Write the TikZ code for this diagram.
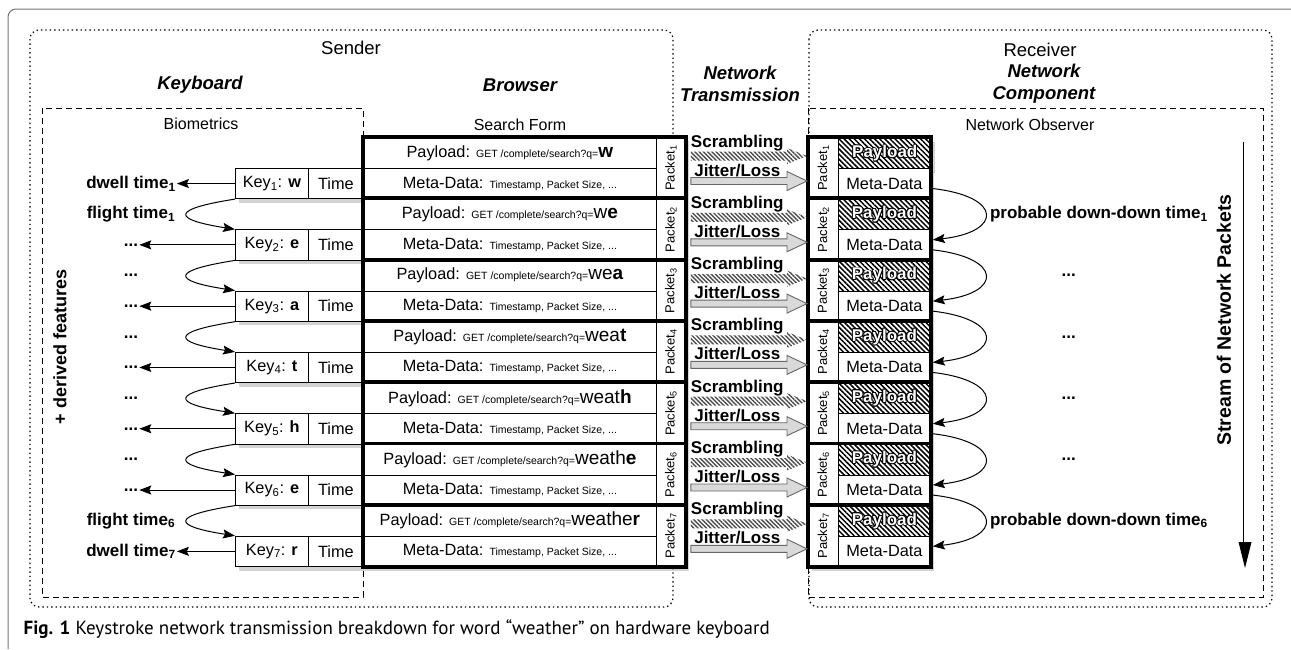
\documentclass[tikz,border=0pt]{standalone}
\usepackage{fontspec}
\setmainfont{Liberation Sans}
\newfontfamily\captionfont{PT Sans}
\usepackage{graphicx}
\usetikzlibrary{calc}
\usetikzlibrary{positioning}
\usetikzlibrary{arrows.meta}
\usetikzlibrary{patterns.meta}
\usetikzlibrary{shadows}
\newcommand{\smalltext}{\fontsize{10.5}{12}\selectfont}
\newcommand{\bigtext}{\fontsize{19}{20}\selectfont}
\newcommand{\pkttext}{\fontsize{13}{15}\selectfont}
\newcommand{\outlined}[1]{{\setbox0\hbox{#1}%
  \rlap{\color{black}\kern-.9pt\copy0}\rlap{\color{black}\kern.9pt\copy0}%
  \rlap{\color{black}\raise.9pt\copy0}\rlap{\color{black}\lower.9pt\copy0}%
  \rlap{\color{black}\kern-.65pt\raise.65pt\copy0}\rlap{\color{black}\kern.65pt\raise.65pt\copy0}%
  \rlap{\color{black}\kern-.65pt\lower.65pt\copy0}\rlap{\color{black}\kern.65pt\lower.65pt\copy0}%
  \color{white}\copy0}}
\newcommand{\netarrow}[5]{%
  \path[#1] ($(#2)+(0,-#4)$) -- ($(#3)+(-20,-#4)$) -- ($(#3)+(-20,-#5)$) -- (#3)
    -- ($(#3)+(-20,#5)$) -- ($(#3)+(-20,#4)$) -- ($(#2)+(0,#4)$) -- cycle;}

\begin{document}
\begin{tikzpicture}[x=1pt, y=-1pt, >={Stealth[length=12pt,width=9pt,inset=2pt]}]
    \fontsize{16.3}{19}\selectfont
    \useasboundingbox (0,0) rectangle (1291,649);

    % TikZ styles for drawing %%%%%%%%%%%%%%%%%%%%%%%%%%%%%%%%%%%%%%%%%%%%%%%%%%%%%%
    \tikzstyle{frame} = [draw,line width=1.2pt,dash pattern=on 1.4pt off 3pt,rounded corners=9pt]
    \tikzstyle{group} = [draw,line width=1pt,dash pattern=on 6pt off 4pt]
    \tikzstyle{cell} = [draw,rectangle,line width=0.8pt,inner sep=0pt,anchor=north west,fill=white,
                        drop shadow={shadow xshift=4pt,shadow yshift=-4pt,opacity=0.35}]
    \tikzstyle{border} = [draw,line width=3.8pt]
    \tikzstyle{title} = [font=\fontsize{18.5}{22}\selectfont]
    \tikzstyle{head} = [font=\fontsize{18.5}{22}\selectfont\bfseries\itshape,align=center]
    \tikzstyle{sub} = [font=\fontsize{16}{18}\selectfont]
    \tikzstyle{label} = [font=\fontsize{17}{20}\selectfont\bfseries,inner sep=1pt]
    \tikzstyle{connector} = [->,line width=1pt]
    \tikzstyle{scramble} = [pattern={Lines[angle=-45,distance=3pt,line width=1.4pt]},pattern color=black!70]
    \tikzstyle{jitter} = [fill=black!15,draw=black!60,line width=0.9pt]

    % Frames and headings %%%%%%%%%%%%%%%%%%%%%%%%%%%%%%%%%%%%%%%%%%%%%%%%%%%%%%%%%%%%
    \draw[black!55,line width=1pt,rounded corners=8pt] (1291,9) -- (8,9) -- (8,649);
    \draw[frame] (30,30) rectangle (673,607);
    \draw[frame] (809,30) rectangle (1272,607);
    \draw[group] (42,108) rectangle (363,597);
    \draw[group] (808,108) rectangle (1263,597);

    \node[title] (sender) at (351,48) {Sender};
    \node[title] (receiver) at (1040,50) {Receiver};
    \node[head] (keyboard) at (200,85) {Keyboard};
    \node[head] (browser) at (520,85) {Browser};
    \node[head] (transmission) at (740,84) {Network\\Transmission};
    \node[head] (component) at (1044,84) {Network\\Component};
    \node[sub] (biometrics) at (201,124) {Biometrics};
    \node[sub] (searchform) at (520,125) {Search Form};
    \node[sub] (observer) at (1030,125) {Network Observer};

    % Keys, search form packets and observed packets %%%%%%%%%%%%%%%%%%%%%%%%%%%%%%%%%%
    \foreach \i/\pre/\lst in {1//w,2/w/e,3/we/a,4/wea/t,5/weat/h,6/weath/e,7/weathe/r} {
      \pgfmathsetmacro{\ytop}{137+(\i-1)*61.3}

      \node[cell,minimum width=73,minimum height=30.3] (key\i) at (235,\ytop+31) {Key\textsubscript{\i}: \textbf{\lst}};
      \node[cell,minimum width=55,minimum height=30.3] (time\i) at (308,\ytop+31) {Time};

      \node[cell,minimum width=293,minimum height=31] (payload\i) at (363,\ytop)
        {Payload: {\smalltext GET /complete/search?q=}{\bigtext\pre\textbf{\lst}}};
      \node[cell,minimum width=293,minimum height=30.3] (meta\i) at (363,\ytop+31)
        {Meta-Data: {\smalltext Timestamp, Packet Size, ...}};
      \node[cell,minimum width=29,minimum height=61.3] (pkt\i) at (656,\ytop) {\rotatebox{90}{\pkttext Packet\textsubscript{\i}}};
      \draw[border] (payload\i.north west) rectangle (pkt\i.south east);

      \node[cell,minimum width=30,minimum height=61.3] (rpkt\i) at (808,\ytop) {\rotatebox{90}{\pkttext Packet\textsubscript{\i}}};
      \node[cell,minimum width=92,minimum height=31,pattern={Lines[angle=-45,distance=3.6pt,line width=1.5pt]},
            preaction={fill=white}] (rpay\i) at (838,\ytop) {\fontsize{17}{20}\selectfont\bfseries\outlined{Payload}};
      \node[cell,minimum width=92,minimum height=30.3] (rmeta\i) at (838,\ytop+31) {Meta-Data};
      \draw[border] (rpkt\i.north west) rectangle (rmeta\i.south east);

      % network transmission
      \coordinate (scrA\i) at ($(pkt\i.north east)+(5,19)$);
      \coordinate (scrB\i) at ($(rpkt\i.north west)+(-1,19)$);
      \coordinate (jitA\i) at ($(pkt\i.north east)+(5,44)$);
      \coordinate (jitB\i) at ($(rpkt\i.north west)+(-1,44)$);
      \netarrow{scramble}{scrA\i}{scrB\i}{4.5}{8}
      \netarrow{jitter}{jitA\i}{jitB\i}{3.5}{9.5}
      \node[label,anchor=base] (scrl\i) at ($(scrA\i)!0.4!(scrB\i)+(0,-9)$) {Scrambling};
      \node[label,anchor=base] (jitl\i) at ($(jitA\i)!0.4!(jitB\i)+(0,-5)$) {Jitter/Loss};
    }

    % Biometrics %%%%%%%%%%%%%%%%%%%%%%%%%%%%%%%%%%%%%%%%%%%%%%%%%%%%%%%%%%%%%%%%%%%%%%
    \foreach \i in {1,...,7} {
      \node[label] (dwell\i) at ($(key\i.west)+(-104,0)$)
        {\ifnum\i=1 dwell time\textsubscript{1}\else\ifnum\i=7 dwell time\textsubscript{7}\else ...\fi\fi};
      \draw[connector] (key\i.west) -- (dwell\i.east);
    }
    \foreach \i [evaluate=\i as \next using int(\i+1)] in {1,...,6} {
      \node[label] (flight\i) at ($(key\i.west)+(-104,30.6)$)
        {\ifnum\i=1 flight time\textsubscript{1}\else\ifnum\i=6 flight time\textsubscript{6}\else ...\fi\fi};
      \draw[connector] (key\i.south west) .. controls +(-64,10) and +(-64,-10) .. (key\next.north west);
      \draw[connector] ($(rmeta\i.east)+(2,5)$) .. controls +(70,8) and +(70,-8) .. ($(rmeta\next.east)+(2,-5)$);
    }
    \node[label,anchor=west] (ddt1) at ($(rmeta1.east)+(58,30.6)$) {probable down-down time\textsubscript{1}};
    \foreach \i in {2,...,5}
      \node[label] (ddt\i) at ($(rmeta\i.east)+(138,30.6)$) {...};
    \node[label,anchor=west] (ddt6) at ($(rmeta6.east)+(58,30.6)$) {probable down-down time\textsubscript{6}};

    \node[label,rotate=90,font=\fontsize{18}{21}\selectfont\bfseries] (derived) at (60,347) {+ derived features};

    % Stream of packets %%%%%%%%%%%%%%%%%%%%%%%%%%%%%%%%%%%%%%%%%%%%%%%%%%%%%%%%%%%%%%%
    \coordinate (streamtop) at (1245,142);
    \coordinate (streamend) at (1245,542);
    \draw[double,double distance=3pt,line width=0.9pt] (streamtop) -- (streamend);
    \fill ($(streamend)+(-6.5,0)$) -- ($(streamend)+(6.5,0)$) -- ($(streamend)+(0,26)$) -- cycle;
    \node[label,rotate=90,font=\fontsize{19.5}{22}\selectfont\bfseries] (streamlabel) at (1224,320) {Stream of Network Packets};

    \node[anchor=west,font=\captionfont\fontsize{19}{22}\selectfont] (caption) at (18,629)
      {\textbf{Fig. 1} Keystroke network transmission breakdown for word “weather” on hardware keyboard};

\end{tikzpicture}
\end{document}
